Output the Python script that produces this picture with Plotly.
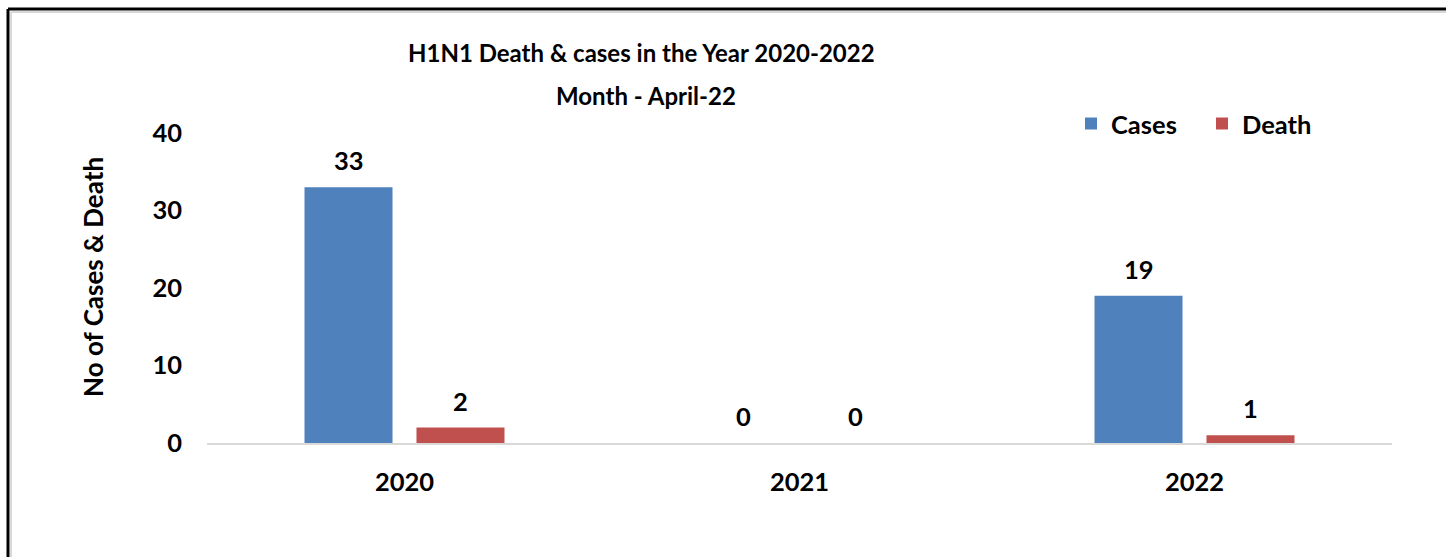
import plotly.graph_objects as go

years = ["2020", "2021", "2022"]
cases = [33, 0, 19]
deaths = [2, 0, 1]
y_ticks = [0, 10, 20, 30, 40]

W, H = 1446, 557
L, R, T, B = 207, 54, 133, 114
PW, PH = W - L - R, H - T - B
FONT = "Lato"
DARK = "#000000"
LBL = 25.5

def px(x):
    return (x - L) / PW

def py(y):
    return (H - B - y) / PH

fig = go.Figure()
fig.add_trace(go.Bar(x=years, y=cases, name="Cases", marker=dict(color="#4f81bd", line=dict(width=0))))
fig.add_trace(go.Bar(x=years, y=deaths, name="Death", marker=dict(color="#c0504d", line=dict(width=0))))

annotations = []
for i, v in enumerate(cases):
    annotations.append(dict(x=i, y=v, xref="x", yref="y", text=f"<b>{v}</b>", showarrow=False,
                            xshift=-56, yshift=27, yanchor="middle", font=dict(family=FONT, size=LBL, color=DARK)))
for i, v in enumerate(deaths):
    annotations.append(dict(x=i, y=v, xref="x", yref="y", text=f"<b>{v}</b>", showarrow=False,
                            xshift=56, yshift=27, yanchor="middle", font=dict(family=FONT, size=LBL, color=DARK)))
annotations.append(dict(x=px(641), y=py(52), xref="paper", yref="paper", text="<b>H1N1 Death & cases in the Year 2020-2022</b>",
                        showarrow=False, xanchor="center", yanchor="middle", font=dict(family=FONT, size=24, color=DARK)))
annotations.append(dict(x=px(646), y=py(95), xref="paper", yref="paper", text="<b>Month - April-22</b>",
                        showarrow=False, xanchor="center", yanchor="middle", font=dict(family=FONT, size=24, color=DARK)))
annotations.append(dict(x=px(93), y=py(277), xref="paper", yref="paper", text="<b>No of Cases & Death</b>", textangle=-90,
                        showarrow=False, xanchor="center", yanchor="middle", font=dict(family=FONT, size=26, color=DARK)))

shapes = [
    dict(type="line", xref="paper", yref="paper", x0=px(8), x1=px(W + 5), y0=py(9), y1=py(9), line=dict(color="#000000", width=3)),
    dict(type="line", xref="paper", yref="paper", x0=px(8), x1=px(8), y0=py(9), y1=py(H + 5), line=dict(color="#000000", width=3)),
    dict(type="line", xref="paper", yref="paper", x0=px(11), x1=px(W + 5), y0=py(12), y1=py(12), line=dict(color="#d8d8d8", width=2)),
    dict(type="line", xref="paper", yref="paper", x0=px(11), x1=px(11), y0=py(12), y1=py(H + 5), line=dict(color="#d8d8d8", width=2)),
]

fig.update_layout(
    width=W, height=H,
    margin=dict(l=L, r=R, t=T, b=B),
    paper_bgcolor="white", plot_bgcolor="white",
    barmode="group", bargap=0.433, bargroupgap=0.214,
    font=dict(family=FONT, size=LBL, color=DARK),
    showlegend=True,
    legend=dict(orientation="h", x=px(1071), y=py(124), xanchor="left", yanchor="middle",
                font=dict(family=FONT, size=LBL, color=DARK, weight="bold"), entrywidth=86, entrywidthmode="pixels",
                bgcolor="rgba(0,0,0,0)", itemclick=False),
    annotations=annotations,
    shapes=shapes,
    xaxis=dict(type="category", range=[-0.5, 2.5],
               showline=True, linecolor="#d9d9d9", linewidth=2, showgrid=False, ticks="",
               tickfont=dict(family=FONT, size=LBL, color=DARK, weight="bold"), ticklabelstandoff=15),
    yaxis=dict(range=[0, 40], showline=False, showgrid=False, zeroline=False, ticks="",
               tickvals=y_ticks,
               tickfont=dict(family=FONT, size=LBL, color=DARK, weight="bold"), ticklabelstandoff=24),
)

fig.write_html("out.html")
